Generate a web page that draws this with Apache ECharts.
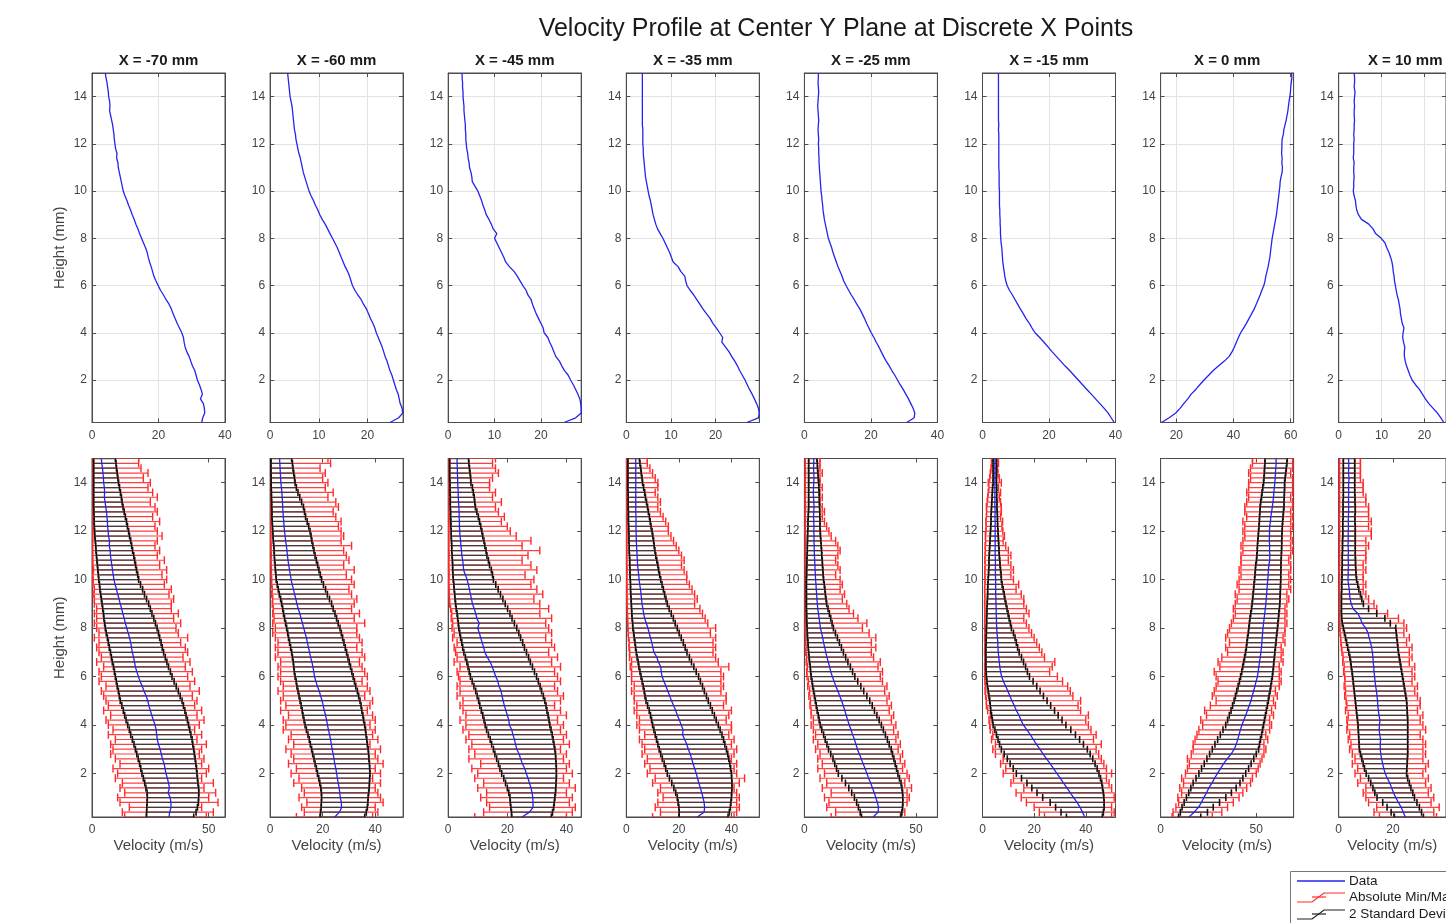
<!DOCTYPE html>
<html><head><meta charset="utf-8">
<script src="https://cdn.jsdelivr.net/npm/echarts@6/dist/echarts.min.js"></script>
<style>html,body{margin:0;padding:0;background:#fff}#c{width:1446px;height:923px}</style>
</head><body><div id="c"></div>
<script>
const heights = [0.2,0.4,0.6,0.8,1.0,1.2,1.4,1.6,1.8,2.0,2.2,2.4,2.6,2.8,3.0,
 3.2,3.4,3.6,3.8,4.0,4.2,4.4,4.6,4.8,5.0,5.2,5.4,5.6,5.8,6.0,
 6.2,6.4,6.6,6.8,7.0,7.2,7.4,7.6,7.8,8.0,8.2,8.4,8.6,8.8,9.0,
 9.2,9.4,9.6,9.8,10.0,10.2,10.4,10.6,10.8,11.0,11.2,11.4,11.6,11.8,12.0,
 12.2,12.4,12.6,12.8,13.0,13.2,13.4,13.6,13.8,14.0,14.2,14.4,14.6,14.8,15.0];

const panelTitles = ['X = -70 mm','X = -60 mm','X = -45 mm','X = -35 mm','X = -25 mm','X = -15 mm','X = 0 mm','X = 10 mm'];
const chartTitle = 'Velocity Profile at Center Y Plane at Discrete X Points';
const legendNames = ['Data','Absolute Min/Max','2 Standard Deviations'];

// ---------- X = -70 mm ----------
const meanP1 = [33.0,33.3,33.9,33.8,33.5,32.6,33.2,32.8,32.3,31.7,31.3,30.9,30.2,29.7,29.2,
 28.5,28.0,27.7,27.5,27.0,26.3,25.6,25.0,24.4,23.9,23.2,22.3,21.5,20.6,19.9,
 19.2,18.6,18.2,17.8,17.3,16.9,16.6,16.1,15.5,14.9,14.3,13.8,13.2,12.7,12.1,
 11.6,11.0,10.5,9.9,9.4,9.1,8.8,8.5,8.2,7.9,7.8,7.4,7.5,7.1,6.9,
 6.7,6.6,6.4,6.2,5.9,5.6,5.3,5.4,5.3,5.0,4.9,4.7,4.5,4.2,4.0];
const lo2P1 = [23.3,23.4,23.5,23.6,23.7,23.6,23.1,22.6,22.0,21.4,20.9,20.4,19.8,19.2,18.6,
 18.0,17.3,16.6,16.0,15.3,14.6,14.0,13.4,12.8,12.1,11.7,11.3,10.8,10.4,10.0,
 9.6,9.2,8.7,8.3,7.9,7.4,7.0,6.6,6.1,5.7,5.4,5.1,4.9,4.6,4.3,
 4.0,3.7,3.4,3.2,2.9,2.7,2.5,2.3,2.1,1.9,1.7,1.6,1.4,1.2,1.1,
 1.0,0.9,0.9,0.8,0.7,0.7,0.7,0.7,0.7,0.7,0.7,0.7,0.7,0.7,0.7];
const hi2P1 = [43.6,44.6,45.2,45.6,45.7,45.8,45.7,45.4,45.2,45.0,44.8,44.5,44.2,43.9,43.6,
 43.2,42.9,42.4,41.9,41.4,40.9,40.3,39.8,39.2,38.6,37.8,37.0,36.1,35.2,34.3,
 33.6,32.8,32.1,31.4,30.7,30.1,29.6,29.0,28.5,27.9,27.2,26.5,25.7,25.0,24.3,
 23.4,22.5,21.7,20.8,20.0,19.6,19.1,18.7,18.3,17.9,17.4,17.0,16.6,16.1,15.7,
 15.2,14.8,14.3,13.8,13.3,12.9,12.6,12.2,11.8,11.4,11.1,10.8,10.5,10.3,10.0];
const minP1 = [14,13,16,12,11,14,12,13,10,11,9,12,10,8,9,
 8,10,7,9,7,6,8,5,7,6,5,4,6,3,4,
 3,5,2,4,3,2,3,1,3,2,1,2,1,2,1,
 1,0.5,1,0.4,0.5,0.3,0.6,0.3,0.3,0.3,0.3,0.2,0.3,0.3,0.3,
 0.3,0.2,0.3,0.3,0.2,0.3,0.3,0.3,0.2,0.3,0.3,0.3,0.3,0.2,0.3];
const maxP1 = [49,52,47,54,50,53,48,52,47,49,50,47,48,46,47,
 49,45,47,44,46,48,45,47,44,45,43,46,42,44,41,
 43,40,42,39,41,40,38,41,37,36,38,35,37,34,34,
 35,33,34,31,32,30,32,29,31,28,29,27,28,30,28,
 27,29,26,28,27,25,28,26,24,25,22,24,21,20,20];

// ---------- X = -60 mm ----------
const meanP2 = [24.6,26.4,27.2,27.1,26.7,26.5,26.3,25.9,25.6,25.3,25.0,24.6,24.3,24.0,23.6,
 23.3,23.0,22.6,22.2,21.8,21.5,21.1,20.6,20.2,19.8,19.2,18.7,18.0,17.4,16.9,
 16.6,16.3,15.9,15.4,15.0,14.6,14.2,13.8,13.3,12.8,12.3,11.8,11.3,10.7,10.2,
 9.8,9.3,8.9,8.4,8.0,7.7,7.4,7.1,6.8,6.6,6.4,6.2,5.9,5.7,5.5,
 5.3,5.2,5.0,4.9,4.8,4.7,4.6,4.5,4.3,4.1,4.0,3.9,3.8,3.7,3.6];
const lo2P2 = [19.0,19.2,19.4,19.5,19.6,19.5,19.3,18.9,18.5,18.0,17.6,17.1,16.7,16.2,15.8,
 15.3,14.9,14.4,13.8,13.3,12.9,12.5,12.2,11.8,11.4,11.0,10.6,10.2,9.9,9.5,
 9.2,9.0,8.8,8.5,8.2,7.8,7.4,7.0,6.7,6.3,5.9,5.5,5.1,4.8,4.4,
 4.0,3.5,3.1,2.7,2.3,2.2,2.0,1.9,1.7,1.6,1.5,1.4,1.2,1.1,1.0,
 0.9,0.8,0.7,0.7,0.6,0.6,0.5,0.5,0.4,0.4,0.4,0.3,0.3,0.3,0.3];
const hi2P2 = [36.0,36.6,37.0,37.2,37.3,37.5,37.7,37.8,37.9,38.0,37.9,37.8,37.6,37.5,37.3,
 37.0,36.8,36.5,36.3,36.0,35.6,35.3,34.9,34.6,34.2,33.7,33.2,32.6,32.1,31.6,
 31.1,30.6,30.1,29.6,29.1,28.6,28.1,27.6,27.1,26.6,25.9,25.3,24.7,24.0,23.4,
 22.6,21.8,21.1,20.3,19.6,19.1,18.6,18.1,17.6,17.1,16.7,16.3,15.9,15.6,15.2,
 14.7,14.1,13.5,13.1,12.7,12.0,11.3,10.6,10.0,9.5,9.3,9.0,8.7,8.5,8.2];
const minP2 = [10,13,12,14,11,13,12,9,11,8,10,7,9,8,6,
 9,7,8,5,6,5,7,4,6,4,5,3,5,4,3,
 4,3,4,2,3,2,3,2,1,2,1,1.5,1,1.2,0.8,
 1,0.6,0.8,0.5,0.6,0.4,0.5,0.4,0.3,0.5,0.3,0.4,0.2,0.3,0.2,
 0.2,0.3,0.2,0.2,0.3,0.2,0.2,0.2,0.3,0.2,0.2,0.2,0.2,0.2,0.2];
const maxP2 = [39,41,40,43,42,41,40,42,39,42,40,43,41,40,42,
 38,41,39,40,38,40,39,37,38,39,36,38,37,35,37,
 36,35,34,36,35,33,35,34,33,33,36,32,34,31,32,
 33,31,30,32,31,29,32,28,30,29,28,31,27,28,27,
 26,27,25,24,26,25,22,24,21,22,20,21,19,23,22];

// ---------- X = -45 mm ----------
const meanP3 = [25.0,27.5,28.7,28.7,28.6,28.4,28.0,27.5,27.0,26.4,25.9,25.1,24.5,24.0,23.2,
 22.8,22.4,21.9,21.5,20.7,20.5,20.0,19.5,19.0,18.6,18.2,17.9,17.2,16.8,16.1,
 15.5,14.9,14.2,13.2,12.4,12.0,11.5,11.0,10.5,10.0,10.5,9.7,9.3,8.8,8.2,
 7.9,7.5,7.2,6.8,6.4,5.8,5.2,5.1,4.9,4.6,4.5,4.3,4.2,4.0,3.9,
 3.8,3.8,3.7,3.7,3.6,3.5,3.4,3.4,3.3,3.2,3.2,3.1,3.1,3.0,3.0];
const lo2P3 = [21.5,21.4,21.2,21.0,20.9,20.5,20.0,19.4,18.8,18.1,17.5,17.0,16.4,15.8,15.3,
 14.7,14.2,13.6,13.0,12.5,12.1,11.7,11.2,10.7,10.3,9.8,9.3,8.7,8.1,7.5,
 7.1,6.7,6.3,5.8,5.3,4.9,4.6,4.2,3.9,3.6,3.4,3.2,3.0,2.7,2.5,
 2.3,2.2,2.0,1.9,1.7,1.6,1.5,1.5,1.4,1.3,1.2,1.2,1.1,1.0,1.0,
 0.9,0.9,0.8,0.8,0.7,0.7,0.7,0.6,0.6,0.6,0.5,0.5,0.5,0.5,0.5];
const hi2P3 = [34.9,35.3,35.7,35.9,36.1,36.3,36.4,36.5,36.6,36.6,36.6,36.5,36.4,36.3,36.1,
 35.8,35.5,35.2,34.8,34.4,34.1,33.8,33.4,33.1,32.7,32.2,31.6,31.1,30.5,29.9,
 29.2,28.5,27.8,27.2,26.5,25.8,25.2,24.5,23.9,23.2,22.4,21.6,20.9,20.1,19.3,
 18.5,17.7,16.9,16.1,15.3,15.0,14.6,14.0,13.6,13.1,12.8,12.4,12.1,11.7,11.4,
 11.0,10.6,10.2,9.7,9.2,9.0,8.8,8.5,8.2,7.7,7.6,7.4,7.2,7.0,6.9];
const minP3 = [9,12,14,13,11,13,10,12,9,10,8,11,7,9,7,
 8,6,7,5,6,4,6,5,4,5,3,4,3,4,3.5,
 3,4,2,3,2.5,2,3,1.5,2,1.3,1.5,1,1.2,0.8,0.5,
 0.4,0.3,0.3,0.2,0.2,0.3,0.2,0.2,0.2,0.3,0.2,0.2,0.2,0.2,0.2,
 0.2,0.3,0.2,0.2,0.2,0.3,0.2,0.2,0.2,0.2,0.3,0.2,0.2,0.2,0.2];
const maxP3 = [40,42,43,41,42,40,43,41,39,42,40,41,39,40,38,
 41,39,40,38,39,37,40,38,36,38,39,37,36,38,37,
 36,38,35,37,34,36,35,33,35,34,33,35,31,34,31,
 29,32,30,28,29,26,30,28,25,27,31,25,28,23,21,
 20,18,19,17,16,18,15,16,14,14,15,17,16,15,16];

// ---------- X = -35 mm ----------
const meanP4 = [27.0,29.6,29.8,29.6,29.2,28.7,28.2,27.6,27.1,26.6,26.0,25.4,24.9,24.3,23.6,
 23.0,22.2,21.4,21.6,20.9,20.2,19.4,18.8,18.0,17.2,16.5,15.8,15.1,14.3,13.6,
 13.3,13.1,12.2,11.6,10.5,10.1,9.7,9.2,8.7,8.2,7.6,7.0,6.6,6.3,6.0,
 5.8,5.6,5.4,5.1,4.9,4.7,4.5,4.3,4.2,4.1,4.0,3.9,3.8,3.8,3.7,
 3.7,3.7,3.7,3.6,3.6,3.6,3.6,3.6,3.6,3.6,3.6,3.6,3.6,3.6,3.6];
const lo2P4 = [20.0,20.1,20.0,19.7,19.4,18.8,18.1,17.3,16.4,15.6,15.0,14.4,13.7,13.1,12.5,
 12.0,11.5,11.0,10.5,10.0,9.6,9.2,8.7,8.1,7.5,7.1,6.8,6.4,6.0,5.6,
 5.2,4.8,4.5,4.1,3.8,3.5,3.3,3.0,2.8,2.5,2.4,2.2,2.1,2.0,1.9,
 1.8,1.7,1.6,1.6,1.5,1.4,1.4,1.3,1.3,1.2,1.1,1.1,1.0,1.0,0.9,
 0.9,0.8,0.8,0.8,0.7,0.7,0.7,0.7,0.6,0.6,0.6,0.6,0.6,0.6,0.6];
const hi2P4 = [38.7,39.2,39.6,39.8,40.0,40.1,40.2,40.2,40.1,40.0,39.7,39.4,39.0,38.6,38.1,
 37.5,37.0,36.4,35.7,35.0,34.2,33.5,32.7,32.0,31.2,30.5,29.7,29.0,28.2,27.5,
 26.6,25.7,24.8,24.0,23.1,22.4,21.7,20.9,20.1,19.4,18.6,17.9,17.1,16.3,15.6,
 15.1,14.6,14.1,13.6,13.1,12.7,12.3,12.0,11.6,11.2,10.9,10.6,10.4,10.1,9.8,
 9.4,9.1,8.8,8.4,8.1,7.7,7.3,7.0,6.6,6.2,6.0,5.7,5.5,5.2,5.0];
const minP4 = [10,13,11,12,14,12,13,10,11,8,9,7,8,6,7,
 6,5,7,5,4,5,4,3,4,3,3,2,3,2,2,
 2,1.5,2,1.2,1.3,1,1.1,0.8,0.7,0.6,0.5,0.5,0.4,0.4,0.3,
 0.3,0.2,0.3,0.2,0.2,0.2,0.3,0.2,0.2,0.2,0.2,0.2,0.2,0.2,0.2,
 0.2,0.2,0.3,0.2,0.2,0.2,0.2,0.3,0.2,0.2,0.2,0.2,0.2,0.2,0.2];
const maxP4 = [41,42,43,42,43,42,41,43,45,42,41,42,40,41,42,
 40,41,39,40,40,38,39,40,37,38,38,36,37,36,37,
 36,39,35,34,33,34,33,34,32,34,31,30,29,28,26,
 27,26,25,24,23,23,22,21,22,21,20,19,18,17,16,
 16,15,14,13,12,13,12,11,12,12,11,10,9,8,8];

// ---------- X = -25 mm ----------
const meanP5 = [30.8,33.0,33.2,32.7,32.0,31.3,30.5,29.7,28.8,28.0,27.2,26.3,25.5,24.6,23.8,
 23.1,22.4,21.6,20.9,20.1,19.4,18.7,18.1,17.4,16.7,15.8,15.0,14.1,13.3,12.5,
 11.8,11.3,10.7,10.1,9.6,9.1,8.6,8.2,7.7,7.2,6.9,6.6,6.3,6.0,5.8,
 5.6,5.5,5.3,5.2,5.0,4.9,4.8,4.7,4.6,4.5,4.4,4.4,4.3,4.3,4.2,
 4.3,4.2,4.1,4.2,4.3,4.2,4.1,4.0,4.1,4.2,4.3,4.2,4.1,4.2,4.2];
const lo2P5 = [25.6,25.0,24.2,23.4,22.4,21.2,19.9,18.4,16.8,15.2,14.4,13.6,12.8,11.8,10.8,
 10.1,9.3,8.6,7.8,7.1,6.6,6.2,5.7,5.3,4.9,4.5,4.1,3.7,3.4,3.0,
 2.8,2.6,2.3,2.1,1.9,1.7,1.6,1.4,1.3,1.2,1.1,1.0,1.0,0.9,0.9,
 0.9,0.9,0.9,0.9,0.9,1.0,1.0,1.1,1.1,1.2,1.3,1.3,1.4,1.4,1.5,
 1.6,1.6,1.7,1.8,1.9,1.9,1.9,1.9,1.9,1.9,1.9,1.9,1.9,1.9,1.9];
const hi2P5 = [43.3,43.7,44.0,44.1,44.1,44.0,43.7,43.3,42.6,41.9,41.3,40.7,40.1,39.5,38.9,
 38.0,37.2,36.3,35.4,34.5,33.5,32.5,31.4,30.4,29.3,28.0,26.6,25.3,23.9,22.6,
 21.6,20.6,19.5,18.5,17.5,16.6,15.7,14.8,13.9,13.0,12.4,11.8,11.2,10.6,10.0,
 9.7,9.4,9.2,8.9,8.6,8.4,8.3,8.1,8.0,7.8,7.7,7.5,7.4,7.2,7.1,
 7.0,7.0,6.9,6.9,6.8,6.7,6.7,6.6,6.5,6.4,6.2,6.1,5.9,5.8,5.6];
const minP5 = [12,14,10,11,9,12,8,10,7,9,6,8,6,7,5,
 6,4,5,4,3,4,3,3,2.5,2.7,2,2.3,1.5,1.8,1.2,
 1,1.3,0.8,1,0.6,0.7,0.5,0.6,0.5,0.4,0.5,0.4,0.5,0.4,0.5,
 0.4,0.5,0.4,0.5,0.4,0.4,0.5,0.4,0.4,0.5,0.4,0.4,0.5,0.4,0.4,
 0.4,0.5,0.4,0.4,0.5,0.4,0.4,0.5,0.4,0.4,0.4,0.5,0.4,0.4,0.4];
const maxP5 = [43,45,44,46,47,46,48,45,47,46,44,45,43,44,42,
 43,41,42,40,41,39,40,38,39,37,38,36,37,35,34,
 35,33,34,31,30,32,30,32,29,26,28,24,22,20,19,
 17,18,16,17,16,14,16,15,14,15,16,15,14,12,11,
 10,9,8,9,8,7,8,7,8,7,7,8,7,7,7];

// ---------- X = -15 mm ----------
const meanP6 = [39.6,38.7,37.8,36.6,35.3,34.0,32.7,31.4,30.1,28.8,27.5,26.2,24.8,23.5,22.2,
 20.9,19.7,18.5,17.2,15.8,14.9,14.1,13.1,12.3,11.4,10.6,9.8,9.0,8.1,7.4,
 7.0,6.7,6.5,6.3,6.1,6.0,5.9,5.8,5.6,5.5,5.4,5.4,5.3,5.3,5.2,
 5.2,5.1,5.1,5.1,5.1,5.0,5.0,5.0,5.0,4.9,4.9,4.9,4.9,4.9,4.9,
 4.9,4.9,4.8,4.9,4.8,4.8,4.8,4.8,4.8,4.8,4.8,4.8,4.8,4.8,4.8];
const lo2P6 = [32.5,30.4,28.3,26.2,23.3,21.1,19.1,17.2,15.1,13.1,11.9,10.7,9.6,8.4,7.3,
 6.6,6.0,5.4,4.8,4.1,3.8,3.5,3.2,3.0,2.8,2.5,2.2,1.9,1.7,1.5,
 1.4,1.3,1.3,1.3,1.3,1.3,1.4,1.4,1.5,1.5,1.6,1.6,1.7,1.7,1.8,
 1.9,2.0,2.0,2.1,2.2,2.3,2.4,2.5,2.5,2.6,2.7,2.8,2.9,3.0,3.1,
 3.2,3.3,3.3,3.4,3.5,3.6,3.7,3.8,3.9,4.1,4.1,4.1,4.1,4.1,4.1];
const hi2P6 = [46.4,46.8,47.1,47.1,47.0,46.8,46.5,46.2,45.7,45.1,44.4,43.6,42.7,41.7,40.6,
 39.1,37.6,36.0,34.2,32.3,30.8,29.3,27.9,26.4,25.0,23.6,22.3,21.0,19.6,18.2,
 17.4,16.7,15.9,15.1,14.2,13.6,13.1,12.6,12.0,11.2,10.8,10.3,9.9,9.5,9.1,
 8.7,8.4,8.0,7.6,7.3,7.2,7.0,6.8,6.7,6.5,6.4,6.3,6.2,6.1,6.0,
 5.9,5.8,5.8,5.7,5.6,5.6,5.5,5.5,5.5,5.4,5.4,5.4,5.4,5.4,5.4];
const minP6 = [24,22,20,17,15,13,16,11,12,8,9,7,8,5,4,
 5,3.5,4,3,2.8,2.5,3,2,1.5,1.5,1.2,1,1.1,0.9,0.9,
 0.9,0.8,0.9,0.9,0.8,0.9,0.9,0.8,0.9,0.9,0.8,0.9,0.9,0.9,0.8,
 0.9,0.9,0.8,0.9,1,0.9,0.9,1,0.9,1,1.1,1,1.2,1.1,1.3,
 1.4,1.3,1.5,1.6,1.5,1.8,2,2.2,2.5,2.2,2.8,3,3.3,3.5,3.5];
const maxP6 = [50,51,50,52,51,52,50,49,48,50,48,47,46,45,44,
 46,43,44,42,41,40,41,38,37,38,35,34,33,31,29,
 26,27,28,24,23,22,21,20,19,18,17,16,18,17,16,
 16,15,13,14,12,11,12,11,10,11,10,9,8,8.5,7.9,
 7.5,7.8,7,7.3,7.3,7,6.5,7,6.2,7.3,6.5,6,5.8,6.2,6];

// ---------- X = 0 mm ----------
const meanP7 = [14.8,17.5,19.8,21.3,22.6,24.0,25.2,26.8,28.2,29.7,31.3,32.9,34.8,36.8,38.5,
 39.5,40.3,41.0,41.7,42.5,43.5,44.5,45.4,46.3,47.2,47.9,48.6,49.3,49.9,50.6,
 51.0,51.3,51.7,52.1,52.4,52.7,52.9,53.1,53.3,53.5,53.8,54.1,54.4,54.7,55.0,
 55.2,55.4,55.6,55.8,56.0,56.2,56.3,56.6,57.0,57.1,56.9,57.0,56.8,56.9,56.9,
 57.0,57.4,57.6,58.0,58.4,58.7,59.0,59.2,59.4,59.7,59.9,60.0,60.2,60.4,60.3];
const lo2P7 = [9.4,10.3,11.2,12.3,13.5,14.7,15.8,17.0,18.5,20.0,21.4,22.8,24.2,25.6,27.0,
 28.4,29.8,31.2,32.6,34.0,35.0,35.9,36.8,37.6,38.4,39.1,39.8,40.5,41.2,41.8,
 42.4,42.9,43.4,43.9,44.4,44.8,45.1,45.4,45.8,46.1,46.4,46.7,47.1,47.5,47.8,
 48.1,48.3,48.6,48.8,49.1,49.3,49.5,49.7,50.1,50.3,50.5,50.6,50.8,51.0,51.2,
 51.4,51.6,51.7,51.9,52.0,52.3,52.7,53.0,53.4,53.8,54.0,54.2,54.3,54.5,54.6];
const hi2P7 = [21.0,24.5,27.5,30.8,34.1,37.0,39.5,41.5,43.0,44.5,46.0,47.3,48.7,50.0,51.2,
 51.7,52.2,52.8,53.3,53.8,54.3,54.8,55.3,55.8,56.3,56.7,57.2,57.6,58.0,58.4,
 58.7,59.0,59.2,59.5,59.7,60.0,60.3,60.5,60.8,61.1,61.3,61.6,61.8,62.1,62.3,
 62.4,62.5,62.6,62.7,62.8,62.8,62.9,62.9,63.0,63.1,63.2,63.3,63.3,63.4,63.5,
 63.6,63.8,64.0,64.2,64.5,64.5,64.6,64.7,64.8,64.8,65.1,65.4,65.7,66.0,66.2];
const minP7 = [6,6.5,8,9.4,9,11,10,12,11,13,14,15,14,16,17,
 17,18,19,20,22,21,24,23,26,29,27,28,29,30,29,
 28,31,30,32,35,34,36,34,35,36,37,38,39,38,39,
 40,39,41,40,41,42,41,42,42,42,43,42,43,44,43,
 44,43,45,44,44,45,46,45,46,46,47,46,47,48,48];
const maxP7 = [27,32,35,38,41,43,45,47,48,50,51,52,53,54,55,
 54,56,55,57,58,57,59,58,60,59,61,60,62,63,62,
 63,62,64,63,64,63,65,64,65,65,66,65,66,65,66,
 67,66,68,67,68,67,68,68,67,68,69,68,69,68,68,
 69,68,69,68,69,69,68,69,69,69,69,68,69,69,69];

// ---------- X = 10 mm ----------
const meanP8 = [24.5,23.8,23.0,22.0,21.0,20.2,19.5,18.8,17.9,17.1,16.6,16.2,15.8,15.5,15.3,
 15.3,15.4,15.1,14.9,15.0,15.2,14.8,14.6,14.4,14.3,14.1,13.9,13.6,13.4,13.2,
 13.0,12.9,12.7,12.6,12.4,12.1,11.7,11.2,10.8,9.9,8.6,8.0,7.0,5.3,4.6,
 4.2,4.0,3.9,3.6,3.4,3.5,3.5,3.6,3.5,3.5,3.6,3.4,3.5,3.5,3.5,
 3.6,3.5,3.6,3.6,3.7,3.6,3.6,3.7,3.6,3.7,3.8,3.6,3.7,3.7,3.6];
const lo2P8 = [20.5,19.3,17.8,16.2,14.1,13.3,12.6,11.8,11.0,10.1,9.5,9.0,8.5,8.0,7.6,
 7.5,7.4,7.3,7.2,7.1,6.9,6.7,6.5,6.3,6.1,5.9,5.7,5.5,5.3,5.1,
 4.9,4.6,4.4,4.1,3.7,3.3,2.9,2.5,2.1,1.7,1.3,1.1,1.0,1.0,1.0,
 1.0,1.0,1.1,1.1,1.2,1.2,1.2,1.3,1.3,1.3,1.4,1.4,1.4,1.5,1.5,
 1.5,1.5,1.6,1.6,1.6,1.6,1.7,1.7,1.7,1.7,1.7,1.7,1.7,1.7,1.7];
const hi2P8 = [31.2,30.5,29.7,28.8,27.9,27.3,26.6,26.0,25.4,25.0,25.1,25.2,25.3,25.4,25.4,
 25.4,25.4,25.4,25.4,25.4,25.4,25.3,25.2,25.1,25.0,24.7,24.4,24.1,23.8,23.5,
 23.2,22.9,22.6,22.3,22.0,21.8,21.6,21.4,21.2,21.0,19.0,17.0,14.0,11.0,9.1,
 8.5,8.0,7.4,7.0,6.6,6.4,6.3,6.2,6.2,6.1,6.1,6.1,6.1,6.1,6.1,
 6.1,6.0,6.0,6.1,6.1,6.0,6.0,5.9,5.9,5.9,5.9,5.9,5.9,5.9,5.9];
const minP8 = [15,13,14,11,10,9,10,7,8,6,7,5,6,5,4,
 4.5,3.5,4,3,3.2,3,3.5,2.5,3,2.7,2.2,2.5,2,2.3,2.2,
 1.8,2,1.5,1.6,1.2,1,0.8,0.7,0.5,0.4,0.4,0.3,0.3,0.3,0.3,
 0.3,0.3,0.2,0.3,0.3,0.3,0.2,0.3,0.3,0.3,0.3,0.2,0.3,0.3,0.3,
 0.3,0.3,0.2,0.3,0.3,0.3,0.3,0.2,0.3,0.3,0.3,0.3,0.2,0.3,0.3];
const maxP8 = [36,35,37,34,35,33,34,32,33,31,32,33,31,32,31,
 32,31,30,32,31,30,31,29,30,30,29,28,29,27,28,
 27,28,26,27,26,27,25,26,24,25,24,22,18,14,13,
 11,10,9,10,9,9,10,9,10,10,10,11,10,12,12,
 11,12,11,11,11,10,10,9,9,9,8,8,8,8,8];

// ---------- axes ----------
const topXMin = [0,0,0,0,0,0,14.5,0];
const topXMax = [40,27.3,28.7,29.8,40,40,61,25];
const topXTicks = [[0,20,40],[0,10,20],[0,10,20],[0,10,20],[0,20,40],[0,20,40],[20,40,60],[0,10,20]];
const botXMax = [57,50.6,45,50.6,59.6,51.5,69.5,39.5];
const botXTicks = [[0,50],[0,20,40],[0,20,40],[0,20,40],[0,50],[0,20,40],[0,50],[0,20]];
const yTicks = [2,4,6,8,10,12,14];
const yMin = 0.2, yMax = 15;

const panels = [
  {mean: meanP1, lo2: lo2P1, hi2: hi2P1, min: minP1, max: maxP1},
  {mean: meanP2, lo2: lo2P2, hi2: hi2P2, min: minP2, max: maxP2},
  {mean: meanP3, lo2: lo2P3, hi2: hi2P3, min: minP3, max: maxP3},
  {mean: meanP4, lo2: lo2P4, hi2: hi2P4, min: minP4, max: maxP4},
  {mean: meanP5, lo2: lo2P5, hi2: hi2P5, min: minP5, max: maxP5},
  {mean: meanP6, lo2: lo2P6, hi2: hi2P6, min: minP6, max: maxP6},
  {mean: meanP7, lo2: lo2P7, hi2: hi2P7, min: minP7, max: maxP7},
  {mean: meanP8, lo2: lo2P8, hi2: hi2P8, min: minP8, max: maxP8}
];

// ---------- style / layout ----------
const FONT = '"Liberation Sans", Arial, Helvetica, sans-serif';
const AX = '#4d4d4d', TXT = '#444', BLUE = '#2424ee', RED = '#ff2a2a', BLK = '#1e1e1e';
const PW = 133, PX0 = 92, PDX = 178.1;
const rows = [{top: 73, height: 349.5}, {top: 458.5, height: 358.5}];

const grid = [], xAxis = [], yAxis = [], series = [], graphic = [];

function errRender(cap, barColor, barW, capColor, capW) {
  return function (params, api) {
    const h = api.value(0), lo = api.value(1), hi = api.value(2);
    const a = api.coord([lo, h]), b = api.coord([hi, h]);
    const bs = {stroke: barColor, lineWidth: barW};
    const cs = {stroke: capColor, lineWidth: capW};
    return {type: 'group', children: [
      {type: 'line', shape: {x1: a[0], y1: a[1], x2: b[0], y2: b[1]}, style: bs},
      {type: 'line', shape: {x1: a[0], y1: a[1] - cap, x2: a[0], y2: a[1] + cap}, style: cs},
      {type: 'line', shape: {x1: b[0], y1: b[1] - cap, x2: b[0], y2: b[1] + cap}, style: cs}
    ]};
  };
}

for (let r = 0; r < 2; r++) {
  for (let i = 0; i < 8; i++) {
    const g = r * 8 + i;
    const left = PX0 + PDX * i;
    grid.push({left: left, top: rows[r].top, width: PW, height: rows[r].height, show: true,
      borderColor: AX, borderWidth: 1, backgroundColor: '#fff', containLabel: false});
    const xmin = r === 0 ? topXMin[i] : 0;
    const xmax = r === 0 ? topXMax[i] : botXMax[i];
    const xt = r === 0 ? topXTicks[i] : botXTicks[i];
    const labelStyle = {color: TXT, fontSize: 12, fontFamily: FONT};
    xAxis.push({gridIndex: g, type: 'value', min: xmin, max: xmax, position: 'bottom',
      axisLine: {show: true, onZero: false, lineStyle: {color: AX}},
      axisTick: {show: true, inside: true, length: 4, customValues: xt, lineStyle: {color: AX}},
      axisLabel: Object.assign({show: true, customValues: xt, margin: 7}, labelStyle),
      splitLine: {show: r === 0, lineStyle: {color: '#e3e3e3', width: 1}},
      name: r === 1 ? 'Velocity (m/s)' : '', nameLocation: 'middle', nameGap: 21,
      nameTextStyle: {color: TXT, fontSize: 15, fontFamily: FONT}});
    xAxis.push({gridIndex: g, type: 'value', min: xmin, max: xmax, position: 'top',
      axisLine: {show: true, onZero: false, lineStyle: {color: AX}},
      axisTick: {show: true, inside: true, length: 4, customValues: xt, lineStyle: {color: AX}},
      axisLabel: {show: false}, splitLine: {show: false}});
    yAxis.push({gridIndex: g, type: 'value', min: yMin, max: yMax, position: 'left',
      axisLine: {show: true, onZero: false, lineStyle: {color: AX}},
      axisTick: {show: true, inside: true, length: 4, customValues: yTicks, lineStyle: {color: AX}},
      axisLabel: Object.assign({show: true, customValues: yTicks, margin: 5}, labelStyle),
      splitLine: {show: r === 0, lineStyle: {color: '#e3e3e3', width: 1}},
      name: i === 0 ? 'Height (mm)' : '', nameLocation: 'middle', nameGap: 25,
      nameTextStyle: {color: TXT, fontSize: 15, fontFamily: FONT}});
    yAxis.push({gridIndex: g, type: 'value', min: yMin, max: yMax, position: 'right',
      axisLine: {show: true, onZero: false, lineStyle: {color: AX}},
      axisTick: {show: true, inside: true, length: 4, customValues: yTicks, lineStyle: {color: AX}},
      axisLabel: {show: false}, splitLine: {show: false}});

    const P = panels[i];
    const lineData = heights.map((h, k) => [P.mean[k], h]);
    if (r === 1) {
      series.push({type: 'custom', xAxisIndex: 2 * g, yAxisIndex: 2 * g, clip: true, silent: true, z: 2,
        encode: {x: [1, 2], y: 0},
        data: heights.map((h, k) => [h, P.min[k], P.max[k]]),
        renderItem: errRender(4, '#ff4040', 1.2, RED, 1.4)});
      series.push({type: 'custom', xAxisIndex: 2 * g, yAxisIndex: 2 * g, clip: true, silent: true, z: 3,
        encode: {x: [1, 2], y: 0},
        data: heights.map((h, k) => [h, P.lo2[k], P.hi2[k]]),
        renderItem: errRender(3.5, '#3c3c3c', 1.25, '#111', 1.6)});
    }
    series.push({type: 'line', xAxisIndex: 2 * g, yAxisIndex: 2 * g, data: lineData, showSymbol: false,
      symbol: 'none', silent: true, z: 4, clip: true, lineStyle: {color: BLUE, width: 1.3}});
  }
}
for (let i = 0; i < 8; i++) {
  graphic.push({type: 'text', x: PX0 + PDX * i + PW / 2, y: 61, silent: true,
    style: {text: panelTitles[i], textAlign: 'center', textVerticalAlign: 'middle',
      font: 'bold 15px ' + FONT, fill: '#1a1a1a'}});
}
graphic.push({type: 'text', x: 836, y: 29, silent: true,
  style: {text: chartTitle, textAlign: 'center', textVerticalAlign: 'middle', font: '25px ' + FONT, fill: '#1a1a1a'}});

// legend box
graphic.push({type: 'rect', shape: {x: 1290.5, y: 871.5, width: 200, height: 70}, silent: true,
  style: {fill: '#fff', stroke: '#777', lineWidth: 1}});
graphic.push({type: 'line', shape: {x1: 1297, y1: 881, x2: 1345, y2: 881}, style: {stroke: BLUE, lineWidth: 1.3}});
graphic.push({type: 'polyline', shape: {points: [[1297, 902], [1312, 902], [1324, 893], [1345, 893]]}, style: {stroke: RED, lineWidth: 1.2, fill: null}});
graphic.push({type: 'line', shape: {x1: 1312, y1: 897, x2: 1326, y2: 897}, style: {stroke: RED, lineWidth: 1.2}});
graphic.push({type: 'polyline', shape: {points: [[1297, 919], [1312, 919], [1324, 910], [1345, 910]]}, style: {stroke: BLK, lineWidth: 1.2, fill: null}});
graphic.push({type: 'line', shape: {x1: 1312, y1: 914, x2: 1326, y2: 914}, style: {stroke: BLK, lineWidth: 1.2}});
legendNames.forEach((n, k) => {
  graphic.push({type: 'text', x: 1349, y: 881 + k * 16.5, silent: true,
    style: {text: n, textAlign: 'left', textVerticalAlign: 'middle', font: '13.5px ' + FONT, fill: '#1a1a1a'}});
});

const chart = echarts.init(document.getElementById('c'), null, {renderer: 'canvas'});
chart.setOption({animation: false, backgroundColor: '#fff', grid, xAxis, yAxis, series, graphic});
</script></body></html>
